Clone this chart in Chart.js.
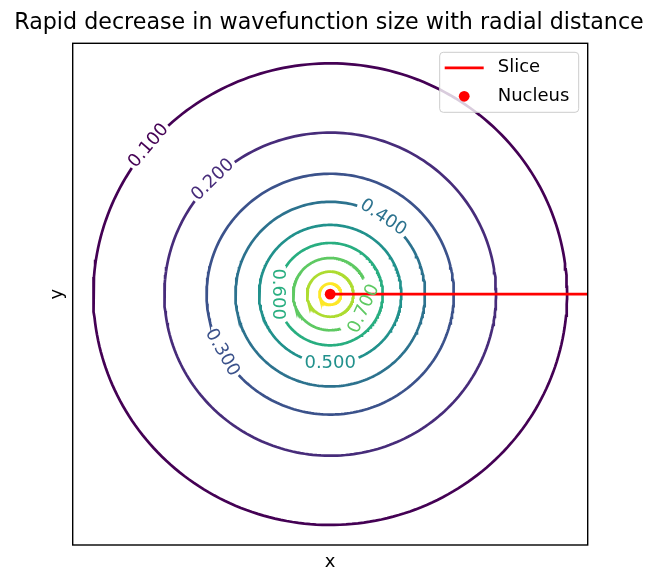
<!DOCTYPE html>
<html>
<head>
<meta charset="utf-8">
<script src="https://cdn.jsdelivr.net/npm/chart.js@4/dist/chart.umd.min.js"></script>
<style>
  html, body { margin: 0; padding: 0; background: #ffffff; }
</style>
</head>
<body>
<canvas id="contourChart" width="658" height="585"></canvas>
<script>
/* global Chart:false */

// contour levels and the radius (axis units) each ring was read at
var levels = [0.1, 0.2, 0.3, 0.4, 0.5, 0.6, 0.7, 0.8, 0.9];
var radii = [2.30, 1.61, 1.20, 0.92, 0.69, 0.51, 0.36, 0.225, 0.105];
// where the inline label sits on each ring (deg, ccw from +x), null = no label
var labelAngles = [140, 135, 209, 56, 270, 180, -24, null, null];
var levelColors = ["#440154", "#472c7a", "#3b528b", "#2c728e", "#21918c", "#28ae80", "#5ec962", "#addc30", "#fde725"];

var sliceX = [0, 2.5];
var sliceY = [0, 0];
var nucleusX = [0];
var nucleusY = [0];

var axisMin = -2.5;
var axisMax = 2.5;

var FONT = "'DejaVu Sans', 'Liberation Sans', sans-serif";
var PX_PER_UNIT = 101.7; // rough, only used to size the label gaps
var LABEL_HALF_GAP = 28;

function ringPoints(r, gapAngle) {
  var pts = [];
  var start = 0;
  var span = 360;
  if (gapAngle !== null) {
    var half = Math.asin(Math.min(1, LABEL_HALF_GAP / (r * PX_PER_UNIT))) * 180 / Math.PI;
    start = gapAngle + half;
    span = 360 - 2 * half;
  }
  var steps = 240;
  for (var i = 0; i <= steps; i++) {
    var a = (start + span * i / steps) * Math.PI / 180;
    pts.push({ x: r * Math.cos(a), y: r * Math.sin(a) });
  }
  return pts;
}

function zipXY(xs, ys) {
  return xs.map(function (v, i) {
    return { x: v, y: ys[i] };
  });
}

var datasets = [];
levels.forEach(function (lev, i) {
  datasets.push({
    label: lev.toFixed(3),
    data: ringPoints(radii[i], labelAngles[i]),
    showLine: true,
    borderColor: levelColors[i],
    borderWidth: 2.7,
    pointRadius: 0,
    tension: 0,
    order: 2,
  });
});
datasets.push({
  label: "Slice",
  data: zipXY(sliceX, sliceY),
  showLine: true,
  borderColor: "#ff0000",
  borderWidth: 2.7,
  pointRadius: 0,
  order: 1,
});
datasets.push({
  label: "Nucleus",
  data: zipXY(nucleusX, nucleusY),
  showLine: false,
  backgroundColor: "#ff0000",
  borderColor: "#ff0000",
  borderWidth: 0,
  pointRadius: 5.4,
  order: 0,
});

// inline contour labels, rotated along the ring
var contourLabels = {
  id: "contourLabels",
  afterDatasetsDraw: function (chart) {
    var ctx = chart.ctx;
    var xs = chart.scales.x;
    var ys = chart.scales.y;
    ctx.save();
    ctx.font = "18px " + FONT;
    ctx.textAlign = "center";
    ctx.textBaseline = "middle";
    levels.forEach(function (lev, i) {
      var ang = labelAngles[i];
      if (ang === null) return;
      var a = ang * Math.PI / 180;
      var px = xs.getPixelForValue(radii[i] * Math.cos(a));
      var py = ys.getPixelForValue(radii[i] * Math.sin(a));
      var rx = xs.getPixelForValue(radii[i]) - xs.getPixelForValue(0);
      var ry = ys.getPixelForValue(0) - ys.getPixelForValue(radii[i]);
      var rot = Math.atan2(-ry * Math.cos(a), -rx * Math.sin(a));
      if (rot > Math.PI / 2 + 1e-6) rot -= Math.PI;
      else if (rot <= -Math.PI / 2 + 1e-6) rot += Math.PI;
      ctx.translate(px, py);
      ctx.rotate(rot);
      ctx.fillStyle = levelColors[i];
      ctx.fillText(lev.toFixed(3), 0, 0);
      ctx.setTransform(1, 0, 0, 1, 0, 0);
    });
    ctx.restore();
  },
};

// axes frame on all four sides
var frameBox = {
  id: "frameBox",
  afterDatasetsDraw: function (chart) {
    var ctx = chart.ctx;
    var ca = chart.chartArea;
    ctx.save();
    ctx.strokeStyle = "#000000";
    ctx.lineWidth = 1.4;
    ctx.strokeRect(ca.left, ca.top, ca.right - ca.left, ca.bottom - ca.top);
    ctx.restore();
  },
};

// matplotlib style legend box in the upper right
var boxLegend = {
  id: "boxLegend",
  afterDraw: function (chart) {
    var ctx = chart.ctx;
    var ca = chart.chartArea;
    var w = 139;
    var h = 60;
    var right = ca.right - 9;
    var top = ca.top + 9;
    var left = right - w;
    ctx.save();
    ctx.beginPath();
    if (ctx.roundRect) ctx.roundRect(left, top, w, h, 3.6);
    else ctx.rect(left, top, w, h);
    ctx.fillStyle = "rgba(255,255,255,0.8)";
    ctx.fill();
    ctx.strokeStyle = "#cccccc";
    ctx.lineWidth = 1;
    ctx.stroke();

    var sliceSet = chart.data.datasets[levels.length];
    var nucSet = chart.data.datasets[levels.length + 1];
    var row1 = top + 15.5;
    var row2 = top + 44;
    ctx.strokeStyle = sliceSet.borderColor;
    ctx.lineWidth = 2.7;
    ctx.beginPath();
    ctx.moveTo(left + 5, row1);
    ctx.lineTo(left + 44, row1);
    ctx.stroke();

    ctx.fillStyle = nucSet.backgroundColor;
    ctx.beginPath();
    ctx.arc(left + 24.5, row2, 5.4, 0, Math.PI * 2);
    ctx.fill();

    ctx.fillStyle = "#000000";
    ctx.font = "18px " + FONT;
    ctx.textAlign = "left";
    ctx.textBaseline = "middle";
    ctx.fillText(sliceSet.label, left + 58, row1);
    ctx.fillText(nucSet.label, left + 58, row2);
    ctx.restore();
  },
};

var chart = new Chart(document.getElementById("contourChart").getContext("2d"), {
  type: "scatter",
  data: { datasets: datasets },
  options: {
    responsive: false,
    animation: false,
    devicePixelRatio: 1,
    layout: {
      padding: 0,
    },
    plugins: {
      legend: { display: false },
      tooltip: { enabled: false },
      title: {
        display: true,
        text: "Rapid decrease in wavefunction size with radial distance",
        color: "#000000",
        font: { family: FONT, size: 22.2, weight: "normal" },
        padding: { top: 10, bottom: 6.66 },
      },
    },
    scales: {
      x: {
        type: "linear",
        min: axisMin,
        max: axisMax,
        grid: { display: false, drawTicks: false },
        border: { display: false },
        ticks: { display: false },
        title: {
          display: true,
          text: "x",
          color: "#000000",
          font: { family: FONT, size: 18 },
          padding: { top: 6, bottom: 12.2 },
        },
        afterFit: function (scale) {
          scale.height = 40;
        },
      },
      y: {
        type: "linear",
        position: "left",
        min: axisMin,
        max: axisMax,
        grid: { display: false, drawTicks: false },
        border: { display: false },
        ticks: { display: false },
        title: {
          display: true,
          text: "y",
          color: "#000000",
          font: { family: FONT, size: 18 },
          padding: { top: 46.2, bottom: 4 },
        },
        afterFit: function (scale) {
          scale.width = 72.7;
        },
      },
      yRight: {
        type: "linear",
        position: "right",
        min: axisMin,
        max: axisMax,
        grid: { display: false, drawTicks: false },
        border: { display: false },
        ticks: { display: false },
        afterFit: function (scale) {
          scale.width = 70.3;
        },
      },
    },
  },
  plugins: [contourLabels, frameBox, boxLegend],
});
</script>
</body>
</html>
